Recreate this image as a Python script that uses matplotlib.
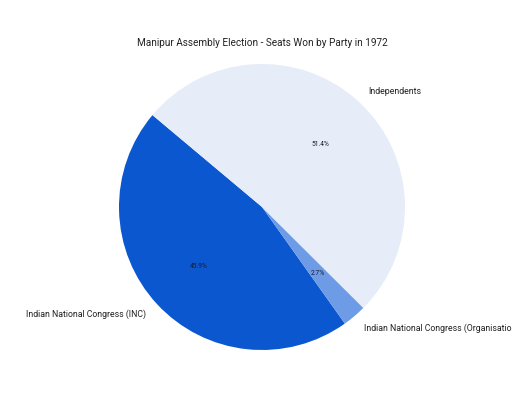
import matplotlib.pyplot as plt

plt.rcParams['font.family'] = ['Roboto', 'DejaVu Sans']

parties = ['Indian National Congress (INC)',
           'Indian National Congress (Organisation)',
           'Independents']
seats = [17, 1, 19]
colors = ['#0b57d0', '#6e9be6', '#e6ecf8']

fig = plt.figure(figsize=(5.12, 4.1), dpi=100)
ax = fig.add_axes([83.25 / 512, 1 - 386.75 / 410, 357.5 / 512, 357.5 / 410])

wedges, texts, autotexts = ax.pie(seats, labels=parties, colors=colors,
                                  autopct='%1.1f%%', startangle=140,
                                  textprops={'fontsize': 6.3, 'color': '#222222'})
for t in autotexts:
    t.set_fontsize(4.8)
    t.set_color('#1a1a2e')
ax.set_aspect('equal')

fig.text(262 / 512, 1 - 43 / 410, 'Manipur Assembly Election - Seats Won by Party in 1972',
         ha='center', va='center', fontsize=7.2, color='#222222')

fig.savefig('out.png', dpi=100)
